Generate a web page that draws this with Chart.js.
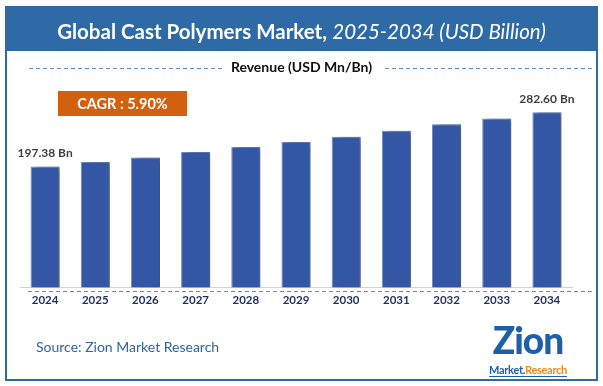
<!DOCTYPE html>
<html>
<head>
<meta charset="utf-8">
<script src="https://cdn.jsdelivr.net/npm/chart.js@4.4.1/dist/chart.umd.min.js"></script>
<style>
  html, body { margin: 0; padding: 0; background: #fff; }
  #wrap { position: relative; width: 603px; height: 386px; overflow: hidden; font-family: Lato, sans-serif; }
  #frame { position: absolute; left: 5px; top: 6px; width: 589px; height: 371px; border: 2px solid #2e6aa8; }
  #band { position: absolute; left: 5px; top: 6px; width: 593px; height: 45px; background: #2d6aa6; }
  #title { position: absolute; left: 0; top: 19px; width: 603px; text-align: center; color: #fff; font-size: 20.5px; line-height: 24px; white-space: nowrap; }
  #title b { font-weight: 700; }
  #title i { font-weight: 400; font-style: italic; }
  #subtitle { position: absolute; left: 0; top: 58px; width: 603px; text-align: center; font-size: 14px; font-weight: 700; color: #111; line-height: 18px; }
  .dash { position: absolute; height: 1px; background: repeating-linear-gradient(to right, #5b86c8 0 4px, transparent 4px 7px); }
  #cagr { position: absolute; left: 58px; top: 91px; width: 129px; height: 25px; background: #d2600f; color: #fff; font-weight: 700; font-size: 14.5px; line-height: 25px; text-align: center; }
  #source { position: absolute; left: 36px; top: 338px; font-size: 14px; color: #2f65a5; line-height: 18px; }
  #logo { position: absolute; left: 486px; top: 322px; width: 84px; text-align: center; }
  #logo .z { font-size: 37px; font-weight: 900; color: #1d5fa8; line-height: 36px; letter-spacing: -1px; }
  #logo .m { font-size: 11px; font-weight: 700; line-height: 12px; border-bottom: 1px solid #1d5fa8; display: inline-block; letter-spacing: -0.3px; }
  #logo .m span.a { color: #1d5fa8; }
  #logo .m span.b { color: #f08a1c; }
  canvas { position: absolute; left: 0; top: 0; }
</style>
</head>
<body>
<div id="wrap">
  <canvas id="chart" width="603" height="386"></canvas>
  <div id="band"></div>
  <div id="frame"></div>
  <div id="title"><b>Global Cast Polymers Market,</b> <i>2025-2034 (USD Billion)</i></div>
  <div class="dash" style="left:29px; top:68px; width:195px;"></div>
  <div id="subtitle">Revenue (USD Mn/Bn)</div>
  <div class="dash" style="left:385px; top:68px; width:208px;"></div>
  <div id="cagr">CAGR : 5.90%</div>
  <div class="dash" style="left:28px; top:291px; width:565px;"></div>
  <div id="source">Source: Zion Market Research</div>
  <div id="logo">
    <div class="z">Zion</div>
    <div class="m"><span class="a">Market.</span><span class="b">Research</span></div>
  </div>
</div>
<script>
const years = ['2024', '2025', '2026', '2027', '2028', '2029', '2030', '2031', '2032', '2033', '2034']
const revenue = [197.38, 204.4, 211.7, 220.2, 228.2, 235.8, 244.0, 253.6, 263.6, 272.6, 282.60]
const labelled = { 0: '197.38 Bn', 10: '282.60 Bn' }

// soft grey shadow on the right of each bar
const barShadow = {
  id: 'barShadow',
  beforeDatasetsDraw(chart) {
    const ctx = chart.ctx
    ctx.save()
    ctx.shadowColor = 'rgba(0, 0, 0, 0.45)'
    ctx.shadowBlur = 6
    ctx.shadowOffsetX = 5
    ctx.shadowOffsetY = 0
  },
  afterDatasetsDraw(chart) {
    chart.ctx.restore()
  }
}

const endLabels = {
  id: 'endLabels',
  afterDraw(chart) {
    const ctx = chart.ctx
    const meta = chart.getDatasetMeta(0)
    ctx.save()
    ctx.font = 'bold 12px Lato'
    ctx.fillStyle = '#404040'
    ctx.textAlign = 'center'
    ctx.textBaseline = 'middle'
    Object.keys(labelled).forEach(i => {
      const bar = meta.data[i]
      ctx.fillText(labelled[i], bar.x, bar.y - 13)
    })
    ctx.restore()
  }
}

new Chart(document.getElementById('chart'), {
  type: 'bar',
  data: {
    labels: years,
    datasets: [{
      data: revenue,
      backgroundColor: '#3357a5',
      borderColor: '#7290cc',
      borderWidth: 1,
      barPercentage: 0.58,
      categoryPercentage: 1
    }]
  },
  options: {
    responsive: false,
    animation: false,
    layout: { padding: { left: 20, right: 31, top: 90, bottom: 73 } },
    plugins: { legend: { display: false }, tooltip: { enabled: false } },
    scales: {
      x: {
        grid: { display: false, drawTicks: false },
        border: { display: true, color: '#d3d3d3', width: 1 },
        ticks: { color: '#1f2f5e', font: { family: 'Lato', size: 11.5, weight: 'bold' }, padding: 6 }
      },
      y: {
        display: false,
        min: 8,
        max: 317.5
      }
    }
  },
  plugins: [barShadow, endLabels]
})
</script>
</body>
</html>
